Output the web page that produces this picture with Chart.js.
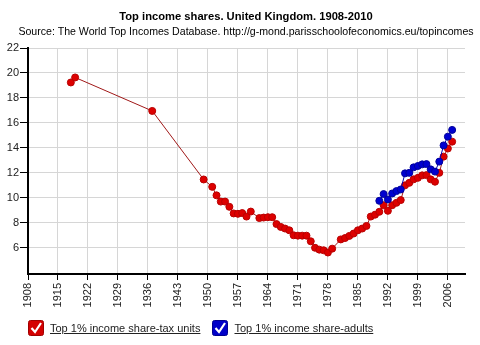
<!DOCTYPE html>
<html>
<head>
<meta charset="utf-8">
<script src="https://cdn.jsdelivr.net/npm/chart.js@4"></script>
<style>
    body { margin: 0; background: #fff; }
    #wrap { position: relative; width: 480px; height: 345px; font-family: "Liberation Sans", Arial, sans-serif; }
    .ttl { position: absolute; left: 0; width: 492px; text-align: center; color: #000; white-space: nowrap; line-height: 13px; }
    #title { top: 10px; font-size: 11.2px; font-weight: bold; }
    #subtitle { top: 25px; font-size: 10.6px; }
    #legend { position: absolute; left: 28px; top: 320px; font-size: 11px; color: #222; white-space: nowrap; }
    #legend span.item { display: inline-block; margin-right: 9px; }
    #legend svg { vertical-align: -4px; margin-right: 6px; }
</style>
</head>
<body>
<div id="wrap">
    <canvas id="myChart" width="480" height="345"></canvas>
    <div id="title" class="ttl">Top income shares. United Kingdom. 1908-2010</div>
    <div id="subtitle" class="ttl">Source: The World Top Incomes Database. http://g-mond.parisschoolofeconomics.eu/topincomes</div>
    <div id="legend">
        <span class="item"><svg width="16" height="16"><rect x="0.5" y="0.5" width="15" height="15" rx="2" fill="#d40000" stroke="#a00000"/><path d="M3.5 8 L7 12 L13 3" stroke="#fff" stroke-width="2.2" fill="none"/></svg><u>Top 1% income share-tax units</u></span>
        <span class="item"><svg width="16" height="16"><rect x="0.5" y="0.5" width="15" height="15" rx="2" fill="#0000c8" stroke="#000090"/><path d="M3.5 8 L7 12 L13 3" stroke="#fff" stroke-width="2.2" fill="none"/></svg><u>Top 1% income share-adults</u></span>
    </div>
</div>
<script>
// Top 1% income share - tax units
var redYears = [1918, 1919, 1937, 1949, 1951, 1952, 1953, 1954, 1955, 1956, 1957, 1958, 1959, 1960,
    1962, 1963, 1964, 1965, 1966, 1967, 1968, 1969, 1970, 1971, 1972, 1973, 1974, 1975, 1976, 1977, 1978, 1979,
    1981, 1982, 1983, 1984, 1985, 1986, 1987, 1988, 1989, 1990, 1991, 1992, 1993, 1994, 1995, 1996, 1997,
    1998, 1999, 2000, 2001, 2002, 2003, 2004, 2005, 2006, 2007];
var redValues = [19.24, 19.64, 16.96, 11.47, 10.88, 10.2, 9.7, 9.7, 9.28, 8.75, 8.72, 8.78, 8.5, 8.9,
    8.38, 8.42, 8.45, 8.45, 7.9, 7.67, 7.54, 7.4, 7.0, 6.97, 6.97, 6.97, 6.52, 6.0, 5.85, 5.8, 5.62, 5.93,
    6.67, 6.78, 6.95, 7.14, 7.4, 7.54, 7.75, 8.5, 8.65, 8.88, 9.41, 8.96, 9.41, 9.6, 9.82, 11.0, 11.2,
    11.48, 11.6, 11.8, 11.82, 11.48, 11.29, 12.0, 13.3, 13.95, 14.5];
// Top 1% income share - adults
var blueYears = [1990, 1991, 1992, 1993, 1994, 1995, 1996, 1997, 1998, 1999, 2000, 2001, 2002, 2003,
    2004, 2005, 2006, 2007];
var blueValues = [9.76, 10.3, 9.87, 10.35, 10.54, 10.67, 11.96, 12.0, 12.44, 12.55, 12.68, 12.7, 12.28, 12.1,
    12.9, 14.2, 14.9, 15.44];
var xTicks = [1908, 1915, 1922, 1929, 1936, 1943, 1950, 1957, 1964, 1971, 1978, 1985, 1992, 1999, 2006];
var yTicks = [6, 8, 10, 12, 14, 16, 18, 20, 22];

var font = "'Liberation Sans', Arial, sans-serif";

function toPoints(xs, ys) {
    return xs.map(function (x, i) { return { x: x, y: ys[i] }; });
}

const ctx = document.getElementById('myChart').getContext('2d');
var chart = new Chart(ctx, {
    type: 'line',
    data: {
        datasets: [{
            label: 'Top 1% income share-adults',
            data: toPoints(blueYears, blueValues),
            borderColor: '#0000b0',
            backgroundColor: '#0000d0',
            pointBorderColor: '#00009a',
            borderWidth: 1,
            pointRadius: 3.5,
            pointBorderWidth: 1
        }, {
            label: 'Top 1% income share-tax units',
            data: toPoints(redYears, redValues),
            borderColor: '#a01818',
            backgroundColor: '#dd0000',
            pointBorderColor: '#b80000',
            borderWidth: 1,
            pointRadius: 3.5,
            pointBorderWidth: 1
        }]
    },
    options: {
        responsive: false,
        animation: false,
        // title and legend are html, the canvas only holds the plot
        layout: { padding: { left: 0, right: 15, bottom: 36, top: 48 } },
        plugins: {
            legend: { display: false },
            tooltip: { enabled: false }
        },
        scales: {
            x: {
                type: 'linear',
                min: 1908,
                max: 2010,
                afterBuildTicks: function (scale) {
                    scale.ticks = xTicks.map(function (v) { return { value: v }; });
                },
                afterFit: function (scale) { scale.height = 35; },
                ticks: {
                    minRotation: 90,
                    maxRotation: 90,
                    padding: 3,
                    color: '#222',
                    font: { family: font, size: 11 },
                    callback: function (v) { return String(v); }
                },
                grid: { color: '#d6d6d6', tickColor: '#000', tickLength: 6 },
                border: { color: '#000', width: 2 }
            },
            y: {
                min: 3.9,
                max: 22,
                afterBuildTicks: function (scale) {
                    scale.ticks = yTicks.map(function (v) { return { value: v }; });
                },
                afterFit: function (scale) { scale.width = 28; },
                ticks: {
                    padding: 1,
                    color: '#222',
                    font: { family: font, size: 11 }
                },
                grid: { color: '#d6d6d6', tickColor: '#000', tickLength: 8 },
                border: { color: '#000', width: 2 }
            }
        }
    }
});
</script>
</body>
</html>
